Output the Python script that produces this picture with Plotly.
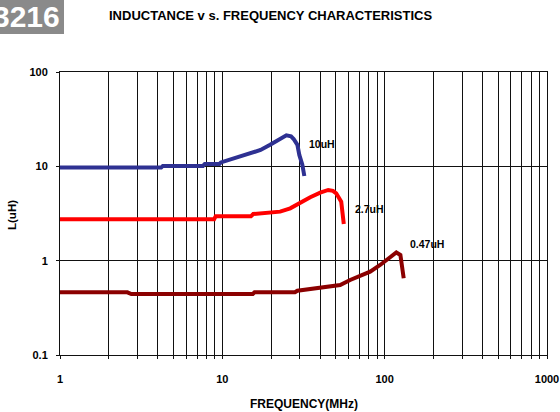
import plotly.graph_objects as go

# ---- data ----
freq_10uH = [1, 4.2, 4.3, 7.6, 7.8, 9.6, 9.8, 11, 12.9, 15, 17.2, 19.7, 22.7, 24.8, 26.5, 27.5, 29.0, 29.8, 31.1, 32.0]
L_10uH = [9.7, 9.7, 10.1, 10.1, 10.6, 10.6, 11.0, 11.7, 12.7, 13.7, 14.9, 16.9, 19.5, 21.3, 20.8, 19.5, 16.9, 13.2, 10.4, 7.9]

freq_2p7uH = [1, 8.9, 9.1, 15, 15.5, 19.7, 22.7, 26.2, 30.2, 34.8, 40.1, 44.9, 48, 50.3, 54.0, 54.7, 55.5, 56]
L_2p7uH = [2.75, 2.75, 2.95, 2.95, 3.12, 3.22, 3.31, 3.59, 4.12, 4.70, 5.26, 5.62, 5.5, 5.18, 4.22, 3.2, 2.59, 2.45]

freq_0p47uH = [1, 2.6, 2.75, 15.4, 15.8, 28, 29, 35, 45, 53.2, 61.3, 70.7, 81.4, 93.8, 108, 118, 125, 128, 130, 131]
L_0p47uH = [0.462, 0.462, 0.443, 0.443, 0.462, 0.462, 0.48, 0.50, 0.53, 0.553, 0.624, 0.689, 0.765, 0.90, 1.09, 1.22, 1.15, 0.86, 0.68, 0.65]

series_names = ["10uH", "2.7uH", "0.47uH"]
series_colors = ["#2e3192", "#ff0000", "#8b0000"]

x_decades = [1, 10, 100, 1000]
y_decades = [0.1, 1, 10, 100]
y_ticktext = ["0.1", "1", "10", "100"]

FONT = "Liberation Sans, Arial, sans-serif"

fig = go.Figure()
for fx, ly, name, col in zip([freq_10uH, freq_2p7uH, freq_0p47uH],
                             [L_10uH, L_2p7uH, L_0p47uH],
                             series_names, series_colors):
    fig.add_trace(go.Scatter(x=fx, y=ly, mode="lines", name=name,
                             line=dict(color=col, width=4), showlegend=False))

# all 1..9 gridlines per decade on x
x_grid = []
x_text = []
for d in x_decades[:-1]:
    for k in range(1, 10):
        v = k * d
        x_grid.append(v)
        x_text.append("<b>%d</b>" % v if k == 1 else "")
x_grid.append(x_decades[-1])
x_text.append("<b>%d</b>" % x_decades[-1])

fig.update_xaxes(type="log", range=[0, 3], tickvals=x_grid, ticktext=x_text,
                 showgrid=True, gridcolor="#111", gridwidth=1,
                 showline=True, linecolor="#111", linewidth=1, mirror=True,
                 ticks="outside", ticklen=3, tickcolor="#111",
                 ticklabelstandoff=11, automargin=False,
                 tickfont=dict(family=FONT, size=11, color="#000"),
                 zeroline=False)
fig.update_yaxes(type="log", range=[-1, 2], tickvals=y_decades,
                 ticktext=["<b>%s</b>" % t for t in y_ticktext],
                 showgrid=True, gridcolor="#111", gridwidth=1,
                 showline=True, linecolor="#111", linewidth=1, mirror=True,
                 ticks="outside", ticklen=3, tickcolor="#111",
                 ticklabelstandoff=6, automargin=False,
                 tickfont=dict(family=FONT, size=11, color="#000"),
                 zeroline=False)

PL, PR, PT, PB = 60, 13, 72, 57
W, H = 560, 412
pw, ph = W - PL - PR, H - PT - PB


def px(xp):
    return (xp - PL) / pw


def py(yp):
    return (H - PB - yp) / ph


shapes = [dict(type="rect", xref="paper", yref="paper",
               x0=px(0), x1=px(64), y0=py(34), y1=py(0),
               fillcolor="#8a8a8a", line=dict(width=0), layer="above")]

annotations = [
    dict(text="<b>3216</b>", xref="paper", yref="paper", x=px(62), y=py(17),
         xanchor="right", yanchor="middle", showarrow=False,
         font=dict(family="Liberation Sans Narrow, Liberation Sans, Arial", size=30, color="#ffffff")),
    dict(text="<b>INDUCTANCE v s. FREQUENCY CHARACTERISTICS</b>", xref="paper", yref="paper",
         x=px(270), y=py(16), xanchor="center", yanchor="middle", showarrow=False,
         font=dict(family=FONT, size=13, color="#000")),
    dict(text="<b>L(uH)</b>", xref="paper", yref="paper", x=px(12), y=py(215),
         xanchor="center", yanchor="middle", textangle=-90, showarrow=False,
         font=dict(family=FONT, size=11.5, color="#000")),
    dict(text="<b>FREQUENCY(MHz)</b>", xref="paper", yref="paper", x=px(304), y=py(404),
         xanchor="center", yanchor="middle", showarrow=False,
         font=dict(family=FONT, size=12, color="#000")),
    dict(text="<b>10uH</b>", xref="paper", yref="paper", x=px(307), y=py(144),
         xanchor="left", yanchor="middle", showarrow=False,
         font=dict(family=FONT, size=10.5, color="#000")),
    dict(text="<b>2.7uH</b>", xref="paper", yref="paper", x=px(353), y=py(209),
         xanchor="left", yanchor="middle", showarrow=False,
         font=dict(family=FONT, size=10.5, color="#000")),
    dict(text="<b>0.47uH</b>", xref="paper", yref="paper", x=px(408), y=py(244),
         xanchor="left", yanchor="middle", showarrow=False,
         font=dict(family=FONT, size=10.5, color="#000")),
]

fig.update_layout(width=W, height=H,
                  margin=dict(l=PL, r=PR, t=PT, b=PB, pad=0),
                  paper_bgcolor="#ffffff", plot_bgcolor="#ffffff",
                  shapes=shapes, annotations=annotations,
                  font=dict(family=FONT, color="#000"))

fig.write_html("out.html", config={"displayModeBar": False, "staticPlot": True},
               post_script="document.body.style.margin='0';document.body.style.padding='0';")
